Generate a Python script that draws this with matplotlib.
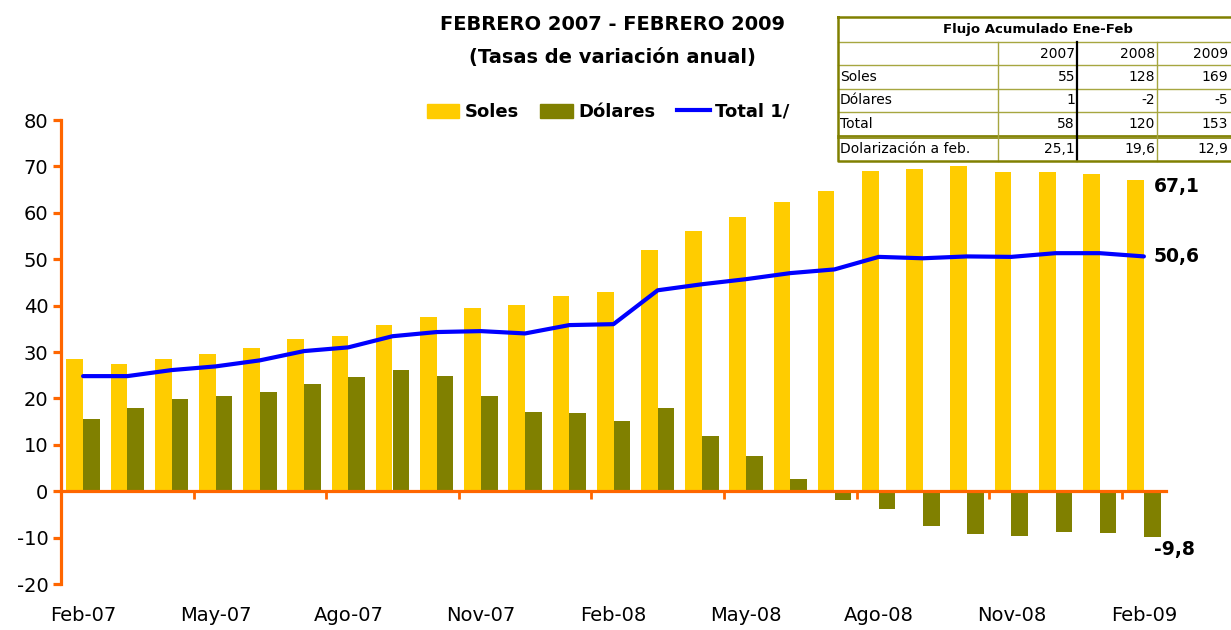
import numpy as np
import matplotlib
matplotlib.use("Agg")
import matplotlib.pyplot as plt
from matplotlib.lines import Line2D
from matplotlib.patches import Patch

plt.rcParams['font.family'] = ['DejaVu Sans']
plt.rcParams['axes.unicode_minus'] = False  # guion simple como en el original

# ================= datos =================
meses = ["Feb-07", "Mar-07", "Abr-07", "May-07", "Jun-07", "Jul-07", "Ago-07",
         "Set-07", "Oct-07", "Nov-07", "Dic-07", "Ene-08", "Feb-08", "Mar-08",
         "Abr-08", "May-08", "Jun-08", "Jul-08", "Ago-08", "Set-08", "Oct-08",
         "Nov-08", "Dic-08", "Ene-09", "Feb-09"]

soles = [28.4, 27.4, 28.4, 29.5, 30.8, 32.7, 33.4, 35.8, 37.5, 39.4, 40.1, 42.0,
         42.9, 51.9, 56.0, 59.0, 62.3, 64.6, 69.0, 69.4, 70.0, 68.8, 68.8, 68.3, 67.1]
dolares = [15.5, 17.9, 19.8, 20.5, 21.3, 23.0, 24.6, 26.1, 24.8, 20.5, 17.0, 16.8,
           15.1, 17.9, 11.8, 7.5, 2.6, -1.9, -3.9, -7.5, -9.3, -9.7, -8.8, -9.0, -9.8]
total = [24.8, 24.8, 26.1, 26.9, 28.2, 30.2, 31.0, 33.4, 34.3, 34.5, 34.0, 35.8,
         36.0, 43.3, 44.6, 45.7, 47.0, 47.8, 50.5, 50.2, 50.6, 50.5, 51.3, 51.3, 50.6]

tabla_titulo = "Flujo Acumulado Ene-Feb"
tabla_anios = ["2007", "2008", "2009"]
tabla_filas = ["Soles", "Dólares", "Total", "Dolarización a feb."]
tabla_vals = [["55", "128", "169"],
              ["1", "-2", "-5"],
              ["58", "120", "153"],
              ["25,1", "19,6", "12,9"]]

# ================= colores =================
c_soles = '#FFCC00'
c_dol = '#808000'
c_total = '#0000FF'
c_eje = '#FF6600'

W, H = 1231, 630
fig = plt.figure(figsize=(W / 100, H / 100), dpi=100)
ax = fig.add_axes([61 / W, 46 / H, 1105 / W, 464 / H])

x = np.arange(len(meses))
ax.bar(x - 0.19, soles, 0.38, color=c_soles, zorder=2)
ax.bar(x + 0.19, dolares, 0.38, color=c_dol, zorder=2)
ax.plot(x, total, color=c_total, lw=3, zorder=4, solid_capstyle='round')

ax.set_xlim(-0.5, len(meses) - 0.5)
ax.set_ylim(-20, 80)

for s in ['top', 'right']:
    ax.spines[s].set_visible(False)
ax.spines['left'].set_color(c_eje)
ax.spines['left'].set_linewidth(2.3)
ax.spines['bottom'].set_position(('data', 0))
ax.spines['bottom'].set_color(c_eje)
ax.spines['bottom'].set_linewidth(2.3)

ax.set_yticks(np.arange(-20, 81, 10))
ax.tick_params(axis='y', colors=c_eje, labelcolor='black', width=2.3,
               length=6, labelsize=14, pad=3)

# marcas entre trimestres sobre la linea del cero
ax.set_xticks(np.arange(2.5, len(meses) - 1, 3))
ax.tick_params(axis='x', colors=c_eje, width=2, length=6, labelbottom=False)

# etiquetas de meses al pie
sec = ax.secondary_xaxis('bottom')
sec.set_xticks(x[::3], [meses[i] for i in x[::3]])
sec.spines['bottom'].set_visible(False)
sec.tick_params(length=0, labelsize=14, pad=16)

# valores finales
ult = len(meses) - 1
for v, dy in [(soles[-1], -5), (total[-1], 0), (dolares[-1], -9.5)]:
    ax.annotate(f"{v:.1f}".replace('.', ','), xy=(ult, v), xytext=(7, dy),
                textcoords='offset points', ha='left', va='center',
                fontsize=13.5, fontweight='bold')

# titulo
fig.text(612 / W, 1 - 25 / H, "FEBRERO 2007 - FEBRERO 2009", ha='center',
         va='center', fontsize=14, fontweight='bold')
fig.text(612 / W, 1 - 58 / H, "(Tasas de variación anual)", ha='center',
         va='center', fontsize=14, fontweight='bold')

# leyenda
handles = [Patch(color=c_soles, label='Soles'),
           Patch(color=c_dol, label='Dólares'),
           Line2D([], [], color=c_total, lw=3, label='Total 1/')]
fig.legend(handles=handles, loc='center', bbox_to_anchor=(608 / W, 1 - 112 / H),
           ncol=3, frameon=False, prop={'size': 13, 'weight': 'bold'},
           handlelength=1.8, handleheight=0.8, handletextpad=0.3,
           columnspacing=1.2)

# ================= tabla =================
tax = fig.add_axes([838 / W, (H - 161) / H, 400 / W, 144 / H])
tax.set_xlim(0, 400)
tax.set_ylim(144, 0)
tax.axis('off')

c_in = '#A6A640'
filas_y = [0, 25, 48, 72, 95, 119, 144]
col_x = [0, 160, 239, 319, 400]
texto_x = [237, 317, 390]   # borde derecho del texto en cada columna
for yy in filas_y[1:-1]:
    tax.plot([0, 400], [yy, yy], color=c_in, lw=1, clip_on=False)
tax.plot([0, 400], [121, 121], color=c_dol, lw=1.2, clip_on=False)
tax.plot([0, 400], [119, 119], color=c_dol, lw=1.2, clip_on=False)
for xx in [col_x[1], col_x[3]]:
    tax.plot([xx, xx], [25, 144], color=c_in, lw=1, clip_on=False)
tax.plot([col_x[2], col_x[2]], [25, 144], color='black', lw=1.6, clip_on=False)
tax.plot([0, 400, 400, 0, 0], [0, 0, 144, 144, 0], color=c_dol, lw=1.8,
         clip_on=False)

tax.text(200, 12.5, tabla_titulo, ha='center', va='center', fontsize=9.5,
         fontweight='bold')
for j, a in enumerate(tabla_anios):
    tax.text(texto_x[j], 36.5, a, ha='right', va='center', fontsize=10)
centros = [60, 83.5, 107, 132]
for i, nombre in enumerate(tabla_filas):
    tax.text(2, centros[i], nombre, ha='left', va='center', fontsize=10)
    for j, v in enumerate(tabla_vals[i]):
        tax.text(texto_x[j], centros[i], v, ha='right', va='center',
                 fontsize=10)

plt.savefig("out.png", dpi=100)
